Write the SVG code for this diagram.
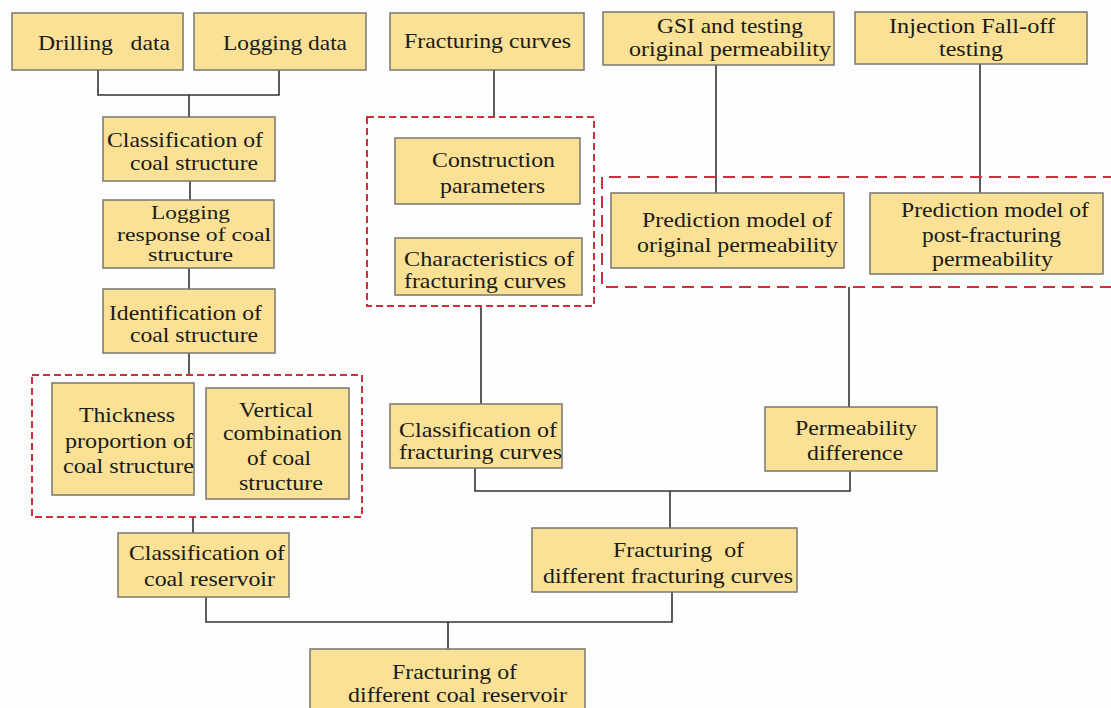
<svg xmlns="http://www.w3.org/2000/svg" width="1111" height="708" viewBox="0 0 1111 708">
<style>
.box{fill:#fbe195;stroke:#7a7670;stroke-width:1.5}
.t{font-family:"Liberation Serif","DejaVu Serif","Times New Roman",serif;font-size:21px;fill:#1a1a1a}
.s{font-size:18px}
.ln{fill:none;stroke:#333;stroke-width:1.6}
.dl{fill:none;stroke:#cf2f3c;stroke-width:2;stroke-dasharray:7 4}
.dr{fill:none;stroke:#cf2f3c;stroke-width:2;stroke-dasharray:12 7}
</style>
<rect width="1111" height="708" fill="#fdfdfd"/>
<g id="connectors">
<path class="ln" d="M98 70V95H279V70M189 95V117"/>
<path class="ln" d="M190 181V200M189 268V289M189 353V375M193 517V533"/>
<path class="ln" d="M494 70V117M716 65V193M980 64V193"/>
<path class="ln" d="M481 306V404M849 287V407"/>
<path class="ln" d="M475 468V491H850V471M670 491V528"/>
<path class="ln" d="M206 597V622H672V592M448 622V649"/>
</g>
<g id="groups">
<rect class="dl" x="32" y="375" width="330" height="142"/>
<rect class="dl" x="367" y="117" width="227" height="189"/>
<path class="dr" d="M1115 177H602V287H1115"/>
</g>
<g id="n-drilling"><rect class="box" x="12" y="13" width="171" height="57"/><text class="t" x="38" y="50" textLength="132" lengthAdjust="spacingAndGlyphs" xml:space="preserve">Drilling   data</text></g>
<g id="n-logging"><rect class="box" x="194" y="13" width="172" height="57"/><text class="t" x="223" y="50" textLength="124" lengthAdjust="spacingAndGlyphs">Logging data</text></g>
<g id="n-class-coal-structure"><rect class="box" x="103" y="117" width="172" height="64"/><text class="t" x="107" y="147" textLength="156" lengthAdjust="spacingAndGlyphs">Classification of</text><text class="t" x="130" y="170" textLength="128" lengthAdjust="spacingAndGlyphs">coal structure</text></g>
<g id="n-logging-response"><rect class="box" x="103" y="200" width="171" height="68"/><text class="t s" x="151" y="219" textLength="79" lengthAdjust="spacingAndGlyphs">Logging</text><text class="t s" x="117" y="241" textLength="154" lengthAdjust="spacingAndGlyphs">response of coal</text><text class="t s" x="148" y="261" textLength="85" lengthAdjust="spacingAndGlyphs">structure</text></g>
<g id="n-identification"><rect class="box" x="103" y="289" width="172" height="64"/><text class="t" x="109" y="320" textLength="153" lengthAdjust="spacingAndGlyphs">Identification of</text><text class="t" x="130" y="342" textLength="128" lengthAdjust="spacingAndGlyphs">coal structure</text></g>
<g id="n-thickness"><rect class="box" x="52" y="383" width="142" height="112"/><text class="t" x="79" y="422" textLength="96" lengthAdjust="spacingAndGlyphs">Thickness</text><text class="t" x="65" y="448" textLength="128" lengthAdjust="spacingAndGlyphs">proportion of</text><text class="t" x="63" y="473" textLength="131" lengthAdjust="spacingAndGlyphs">coal structure</text></g>
<g id="n-vertical"><rect class="box" x="206" y="388" width="143" height="111"/><text class="t" x="239" y="417" textLength="74" lengthAdjust="spacingAndGlyphs">Vertical</text><text class="t" x="223" y="440" textLength="119" lengthAdjust="spacingAndGlyphs">combination</text><text class="t" x="247" y="465" textLength="64" lengthAdjust="spacingAndGlyphs">of coal</text><text class="t" x="239" y="490" textLength="84" lengthAdjust="spacingAndGlyphs">structure</text></g>
<g id="n-class-coal-reservoir"><rect class="box" x="118" y="533" width="171" height="64"/><text class="t" x="129" y="560" textLength="156" lengthAdjust="spacingAndGlyphs">Classification of</text><text class="t" x="144" y="586" textLength="131" lengthAdjust="spacingAndGlyphs">coal reservoir</text></g>
<g id="n-frac-coal-reservoir"><rect class="box" x="310" y="649" width="275" height="70"/><text class="t" x="392" y="679" textLength="125" lengthAdjust="spacingAndGlyphs">Fracturing of</text><text class="t" x="348" y="702" textLength="219" lengthAdjust="spacingAndGlyphs">different coal reservoir</text></g>
<g id="n-frac-curves"><rect class="box" x="390" y="13" width="194" height="57"/><text class="t" x="404" y="48" textLength="167" lengthAdjust="spacingAndGlyphs">Fracturing curves</text></g>
<g id="n-gsi"><rect class="box" x="603" y="12" width="231" height="53"/><text class="t" x="657" y="33" textLength="146" lengthAdjust="spacingAndGlyphs">GSI and testing</text><text class="t" x="629" y="56" textLength="202" lengthAdjust="spacingAndGlyphs">original permeability</text></g>
<g id="n-injection"><rect class="box" x="855" y="12" width="232" height="52"/><text class="t" x="889" y="33" textLength="166" lengthAdjust="spacingAndGlyphs">Injection Fall-off</text><text class="t" x="939" y="56" textLength="64" lengthAdjust="spacingAndGlyphs">testing</text></g>
<g id="n-construction"><rect class="box" x="395" y="138" width="185" height="66"/><text class="t" x="432" y="167" textLength="123" lengthAdjust="spacingAndGlyphs">Construction</text><text class="t" x="440" y="193" textLength="105" lengthAdjust="spacingAndGlyphs">parameters</text></g>
<g id="n-characteristics"><rect class="box" x="395" y="238" width="187" height="57"/><text class="t" x="404" y="266" textLength="170" lengthAdjust="spacingAndGlyphs">Characteristics of</text><text class="t" x="404" y="288" textLength="162" lengthAdjust="spacingAndGlyphs">fracturing curves</text></g>
<g id="n-pred-original"><rect class="box" x="611" y="193" width="233" height="75"/><text class="t" x="642" y="227" textLength="190" lengthAdjust="spacingAndGlyphs">Prediction model of</text><text class="t" x="637" y="252" textLength="201" lengthAdjust="spacingAndGlyphs">original permeability</text></g>
<g id="n-pred-post"><rect class="box" x="870" y="193" width="233" height="81"/><text class="t" x="901" y="217" textLength="188" lengthAdjust="spacingAndGlyphs">Prediction model of</text><text class="t" x="922" y="242" textLength="139" lengthAdjust="spacingAndGlyphs">post-fracturing</text><text class="t" x="932" y="266" textLength="121" lengthAdjust="spacingAndGlyphs">permeability</text></g>
<g id="n-class-frac-curves"><rect class="box" x="390" y="404" width="172" height="64"/><text class="t" x="399" y="437" textLength="158" lengthAdjust="spacingAndGlyphs">Classification of</text><text class="t" x="399" y="459" textLength="163" lengthAdjust="spacingAndGlyphs">fracturing curves</text></g>
<g id="n-perm-diff"><rect class="box" x="765" y="407" width="172" height="64"/><text class="t" x="795" y="435" textLength="122" lengthAdjust="spacingAndGlyphs">Permeability</text><text class="t" x="807" y="460" textLength="96" lengthAdjust="spacingAndGlyphs">difference</text></g>
<g id="n-frac-diff-curves"><rect class="box" x="532" y="528" width="265" height="64"/><text class="t" x="613" y="557" textLength="131" lengthAdjust="spacingAndGlyphs" xml:space="preserve">Fracturing  of</text><text class="t" x="543" y="583" textLength="250" lengthAdjust="spacingAndGlyphs">different fracturing curves</text></g>
</svg>
